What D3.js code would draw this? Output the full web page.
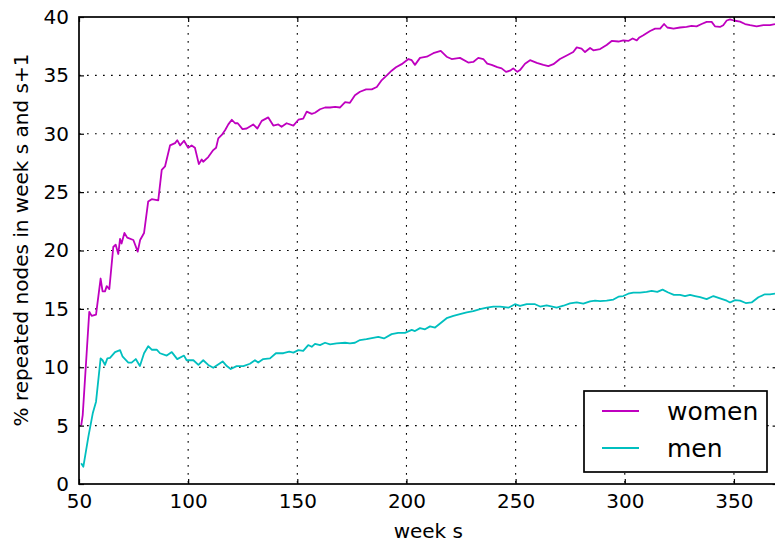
<!DOCTYPE html>
<html>
<head>
<meta charset="utf-8">
<script src="https://cdn.jsdelivr.net/npm/d3@7"></script>
<style>
  body { margin: 0; background: #fff; }
  svg { display: block; font-family: "DejaVu Sans", sans-serif; }
</style>
</head>
<body>
<svg id="chart" width="775" height="544"></svg>
<script>
// weeks and values
const womenWeeks = [51, 51.7, 53.5, 54.7, 55.8, 57.8, 59.9, 60.8, 61.9, 62.7, 63.9, 65.7, 66.8, 68, 68.8, 69.5, 70.8, 72.1, 74.9, 76.9, 78, 79.8, 81.7, 83.3, 86.3, 87.9, 89.4, 91.7, 94, 95, 96.3, 98.1, 100, 101.6, 103.1, 104.9, 106.2, 106.9, 109.2, 111.5, 112.8, 113.8, 115.4, 116.9, 118.4, 120, 121.5, 122.7, 124.9, 126.8, 129.8, 131.7, 133.7, 136.7, 139, 141.3, 142.8, 145.1, 148.2, 150.5, 152.7, 154.3, 156.6, 158.1, 160.4, 162.7, 165, 167.3, 169.6, 171.9, 174.1, 176.4, 178.7, 181.5, 184.1, 186.4, 188.7, 191, 193.2, 195.2, 197.8, 200.9, 202.4, 203.9, 206.2, 209.3, 212.3, 215.7, 218.4, 220.7, 224.5, 228.3, 230.6, 232.9, 235.2, 237, 239, 241.6, 243.6, 245.6, 247.4, 248.9, 250.8, 252, 254.3, 256.6, 259.7, 262.7, 265, 267.3, 270.3, 273.4, 276.4, 278, 280.2, 281.8, 284.1, 285.6, 288.7, 291.7, 294, 297.1, 299.3, 301.6, 303.6, 305.5, 306.7, 308.5, 311.6, 313.9, 316.2, 318, 319.5, 322.3, 325.3, 328.3, 330.6, 332.9, 335.2, 337.5, 339.8, 341.3, 343.6, 345.1, 346.7, 348.2, 350, 352.8, 355.1, 357.4, 360.4, 363.5, 366.5, 368.8];
const womenValues = [5.0, 5.9, 11.2, 14.75, 14.4, 14.5, 17.6, 16.5, 16.5, 16.95, 16.7, 20.3, 20.5, 19.7, 21.0, 20.6, 21.5, 21.1, 20.9, 19.9, 20.9, 21.5, 24.2, 24.4, 24.3, 26.9, 27.2, 29.0, 29.2, 29.45, 29.0, 29.4, 28.8, 29.0, 28.8, 27.4, 27.8, 27.6, 28.0, 28.6, 28.8, 29.6, 29.9, 30.3, 30.8, 31.2, 30.9, 30.9, 30.4, 30.45, 30.8, 30.45, 31.1, 31.4, 30.7, 30.8, 30.6, 30.9, 30.7, 31.2, 31.3, 31.9, 31.7, 31.8, 32.1, 32.25, 32.25, 32.3, 32.25, 32.7, 32.65, 33.3, 33.6, 33.8, 33.8, 34.0, 34.6, 35.0, 35.4, 35.7, 35.96, 36.4, 36.3, 35.9, 36.5, 36.6, 36.9, 37.1, 36.6, 36.4, 36.5, 36.1, 36.15, 36.5, 36.4, 36.0, 35.9, 35.7, 35.6, 35.3, 35.4, 35.6, 35.3, 35.45, 36.0, 36.3, 36.07, 35.9, 35.8, 35.96, 36.4, 36.7, 37.0, 37.4, 37.3, 37.0, 37.35, 37.15, 37.25, 37.6, 37.95, 37.9, 38.0, 37.95, 38.16, 38.0, 38.25, 38.44, 38.8, 39.0, 39.0, 39.4, 39.1, 39.0, 39.1, 39.15, 39.24, 39.2, 39.4, 39.58, 39.58, 39.2, 39.15, 39.3, 39.7, 39.8, 39.7, 39.6, 39.4, 39.3, 39.2, 39.3, 39.3, 39.4];

const menWeeks = [51, 52, 54.3, 56.3, 57.8, 59.9, 60.8, 61.9, 63, 64.2, 66.5, 68.8, 70, 72.6, 74.1, 76, 77.9, 79.8, 81.7, 83.3, 85.6, 87.1, 90.2, 92.5, 95, 98.1, 99.3, 102.4, 104.7, 106.9, 109.2, 111.5, 115.8, 117.7, 119.5, 122.2, 125.3, 128.3, 130.6, 132.1, 134.4, 137.5, 140.2, 143.6, 146.3, 148.2, 150.5, 152.7, 155, 156.6, 158.1, 160.4, 162.7, 165, 168, 171.9, 174.1, 176.4, 178.7, 181.7, 184.1, 187.1, 189.7, 193.2, 196.2, 199.3, 202.4, 203.9, 206.2, 208.5, 210.8, 213.1, 215.4, 218.4, 221.5, 224.5, 227.6, 230.6, 233.7, 236.8, 239.8, 242.9, 246.7, 249.7, 252, 255.1, 258.9, 261.2, 264.2, 268.8, 271.9, 274.9, 278, 281, 284.1, 286.4, 288.7, 291.7, 294.8, 297.1, 299.3, 301.6, 303.9, 307, 310, 312.3, 314.9, 317.3, 319.9, 322.5, 325.3, 327.6, 329.9, 332.2, 334.5, 337.5, 340.6, 343.6, 346.7, 348.2, 350.5, 352.8, 355.4, 358.1, 361.2, 364.2, 366.5, 368.8];
const menValues = [1.77, 1.48, 4.05, 6.05, 7.05, 10.76, 10.6, 10.2, 10.76, 10.8, 11.3, 11.47, 10.9, 10.4, 10.4, 10.7, 10.1, 11.2, 11.8, 11.5, 11.5, 11.2, 11.0, 11.3, 10.7, 11.0, 10.6, 10.6, 10.2, 10.6, 10.2, 9.96, 10.5, 10.1, 9.85, 10.1, 10.1, 10.3, 10.6, 10.4, 10.7, 10.76, 11.2, 11.2, 11.33, 11.25, 11.47, 11.4, 11.9, 11.75, 12.0, 11.9, 12.1, 11.96, 12.05, 12.1, 12.05, 12.1, 12.33, 12.4, 12.5, 12.6, 12.47, 12.84, 12.95, 12.95, 13.2, 13.1, 13.35, 13.25, 13.5, 13.4, 13.75, 14.2, 14.4, 14.55, 14.7, 14.8, 14.98, 15.1, 15.2, 15.2, 15.1, 15.4, 15.25, 15.4, 15.4, 15.2, 15.3, 15.1, 15.27, 15.47, 15.55, 15.45, 15.65, 15.7, 15.67, 15.7, 15.8, 16.04, 16.1, 16.3, 16.4, 16.4, 16.45, 16.55, 16.45, 16.65, 16.4, 16.2, 16.2, 16.1, 16.2, 16.1, 16.0, 15.84, 16.1, 15.9, 15.7, 15.55, 15.75, 15.7, 15.5, 15.55, 16.0, 16.25, 16.25, 16.3];

const xTicks = [50, 100, 150, 200, 250, 300, 350];
const yTicks = [0, 5, 10, 15, 20, 25, 30, 35, 40];
const seriesNames = ["women", "men"];
const seriesColors = ["#bf00bf", "#00bfbf"];

const svg = d3.select("#chart");
svg.append("rect").attr("width", 775).attr("height", 544).attr("fill", "#fff");

// axes box (right spine falls just off the picture)
const box = { left: 79, right: 777.6, top: 17, bottom: 484 };

const x = d3.scaleLinear().domain([50, 370]).range([box.left, box.right]);
const y = d3.scaleLinear().domain([0, 40]).range([box.bottom, box.top]);

svg.append("clipPath").attr("id", "clip")
  .append("rect")
  .attr("x", box.left).attr("y", box.top)
  .attr("width", box.right - box.left).attr("height", box.bottom - box.top);

// dotted grid
const grid = svg.append("g").attr("stroke", "#000").attr("stroke-width", 1.1)
  .attr("stroke-dasharray", "1.7,6.3");
grid.selectAll(".gx").data(xTicks.slice(1)).join("line")
  .attr("x1", (d) => x(d)).attr("x2", (d) => x(d))
  .attr("y1", box.top).attr("y2", box.bottom);
grid.selectAll(".gy").data(yTicks.slice(1, -1)).join("line")
  .attr("x1", box.left).attr("x2", box.right)
  .attr("y1", (d) => y(d)).attr("y2", (d) => y(d));

// lines
const lineGen = d3.line().x((d) => x(d[0])).y((d) => y(d[1]));
const series = [
  d3.zip(womenWeeks, womenValues),
  d3.zip(menWeeks, menValues)
];
svg.append("g").attr("clip-path", "url(#clip)")
  .selectAll("path").data(series).join("path")
  .attr("fill", "none")
  .attr("stroke", (d, i) => seriesColors[i])
  .attr("stroke-width", 1.8)
  .attr("stroke-linejoin", "round")
  .attr("d", lineGen);

// inward ticks on all four sides
const xAxisB = d3.axisBottom(x).tickValues(xTicks).tickSizeInner(-5).tickSizeOuter(0).tickPadding(10);
const xAxisT = d3.axisTop(x).tickValues(xTicks).tickSizeInner(-5).tickSizeOuter(0).tickFormat("");
const yAxisL = d3.axisLeft(y).tickValues(yTicks).tickSizeInner(-5).tickSizeOuter(0).tickPadding(10);
const yAxisR = d3.axisRight(y).tickValues(yTicks).tickSizeInner(-5).tickSizeOuter(0).tickFormat("");

function styleAxis(g) {
  g.select(".domain").remove();
  g.selectAll(".tick line").attr("stroke", "#000").attr("stroke-width", 1.2);
  g.selectAll("text").attr("fill", "#000").attr("font-size", 20)
    .attr("font-family", "DejaVu Sans");
}
svg.append("g").attr("transform", `translate(0,${box.bottom})`).call(xAxisB).call(styleAxis);
svg.append("g").attr("transform", `translate(0,${box.top})`).call(xAxisT).call(styleAxis);
svg.append("g").attr("transform", `translate(${box.left},0)`).call(yAxisL).call(styleAxis);
svg.append("g").attr("transform", `translate(${box.right},0)`).call(yAxisR).call(styleAxis);

// frame
svg.append("rect")
  .attr("x", box.left).attr("y", box.top)
  .attr("width", box.right - box.left).attr("height", box.bottom - box.top)
  .attr("fill", "none").attr("stroke", "#000").attr("stroke-width", 1.7);

// axis labels
svg.append("text")
  .attr("x", (box.left + box.right) / 2).attr("y", 538)
  .attr("text-anchor", "middle").attr("font-size", 20)
  .text("week s");
svg.append("text")
  .attr("transform", "translate(28,240) rotate(-90)")
  .attr("text-anchor", "middle").attr("font-size", 20)
  .text("% repeated nodes in week s and s+1");

// legend
const legend = svg.append("g").attr("transform", "translate(584,391)");
legend.append("rect")
  .attr("width", 183).attr("height", 81)
  .attr("fill", "#fff").attr("stroke", "#000").attr("stroke-width", 1.7);
const items = legend.selectAll(".item").data(seriesNames).join("g")
  .attr("transform", (d, i) => `translate(0,${20 + i * 37})`);
items.append("line")
  .attr("x1", 18).attr("x2", 55)
  .attr("stroke", (d, i) => seriesColors[i]).attr("stroke-width", 1.8);
items.append("text")
  .attr("x", 83).attr("y", 9)
  .attr("font-size", 25)
  .text((d) => d);
</script>
</body>
</html>
